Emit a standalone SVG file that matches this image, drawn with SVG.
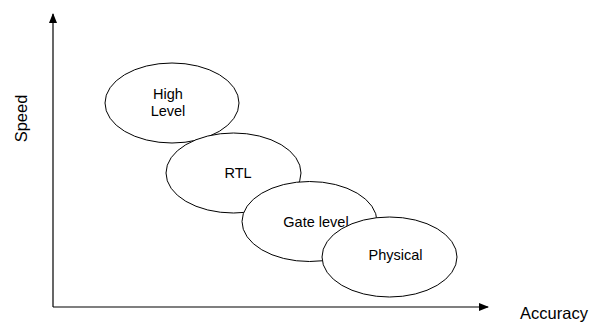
<svg xmlns="http://www.w3.org/2000/svg" width="597" height="322" viewBox="0 0 597 322">
<style>
.n ellipse{fill:#fff;stroke:#000;stroke-width:1}
text{font-family:"Liberation Sans",Arial,sans-serif;font-size:14.5px;fill:#000;text-anchor:middle}
.lab{font-size:16.5px}
.ax{stroke:#000;stroke-width:1.2;fill:none}
</style>
<defs>
<marker id="ah" markerWidth="10" markerHeight="10" refX="9" refY="5" orient="auto" markerUnits="userSpaceOnUse">
<path d="M0,1 L10,5 L0,9 Z" fill="#000"/>
</marker>
</defs>
<rect width="597" height="322" fill="#fff"/>
<g id="connectors">
<line class="ax" x1="53" y1="307" x2="53" y2="14" marker-end="url(#ah)"/>
<line class="ax" x1="53" y1="307" x2="488" y2="307" marker-end="url(#ah)"/>
</g>
<g id="speed"><text class="lab" transform="translate(26.5,118.5) rotate(-90)">Speed</text></g>
<g id="accuracy"><text class="lab" x="554" y="319">Accuracy</text></g>
<g id="high" class="n"><ellipse cx="172" cy="103" rx="67" ry="40"/><text x="168" y="99">High</text><text x="168" y="116">Level</text></g>
<g id="rtl" class="n"><ellipse cx="233.5" cy="173" rx="67.5" ry="40"/><text x="238" y="178">RTL</text></g>
<g id="gate" class="n"><ellipse cx="309.5" cy="221.5" rx="67.5" ry="40"/><text x="316" y="227">Gate level</text></g>
<g id="physical" class="n"><ellipse cx="389.5" cy="257" rx="67.5" ry="40"/><text x="395.5" y="260">Physical</text></g>
</svg>
